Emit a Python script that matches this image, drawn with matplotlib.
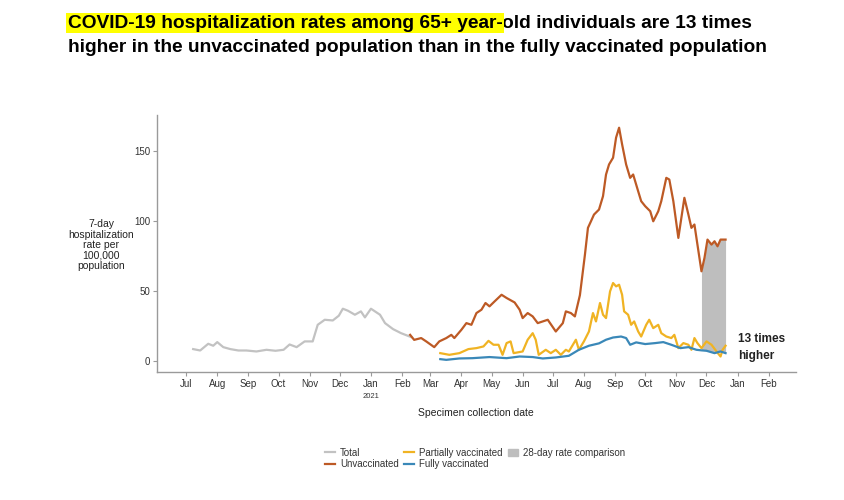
import numpy as np
import pandas as pd
import matplotlib
matplotlib.use("Agg")
import matplotlib.pyplot as plt
import matplotlib.dates as mdates
from matplotlib.lines import Line2D
from matplotlib.patches import Patch

plt.rcParams['font.family'] = ['Liberation Sans', 'DejaVu Sans']

# Total (all 65+), 2020-07 .. 2021-02
total_dates = ["2020-07-08", "2020-07-15", "2020-07-23", "2020-07-28", "2020-08-01", "2020-08-07",
               "2020-08-14", "2020-08-22", "2020-08-30", "2020-09-09", "2020-09-19", "2020-09-28",
               "2020-10-06", "2020-10-12", "2020-10-19", "2020-10-27", "2020-11-04", "2020-11-09",
               "2020-11-16", "2020-11-24", "2020-11-30", "2020-12-04", "2020-12-09", "2020-12-16",
               "2020-12-22", "2020-12-26", "2021-01-01", "2021-01-10", "2021-01-15", "2021-01-23",
               "2021-01-31", "2021-02-10"]
total_vals = [8.4, 7.4, 12.2, 10.8, 13.4, 9.8,
              8.4, 7.4, 7.4, 6.7, 7.9, 7.2,
              7.9, 11.7, 9.8, 13.9, 13.9, 25.8,
              29.4, 28.9, 32.3, 37.3, 35.9, 33.0,
              35.4, 31.1, 37.3, 33.0, 27.0, 22.7,
              19.8, 17.0]

unvax_dates = ["2021-02-09", "2021-02-13", "2021-02-20", "2021-02-25", "2021-03-05", "2021-03-10",
               "2021-03-17", "2021-03-22", "2021-03-25", "2021-04-01", "2021-04-06", "2021-04-11",
               "2021-04-16", "2021-04-21", "2021-04-25", "2021-04-29", "2021-05-04", "2021-05-11",
               "2021-05-16", "2021-05-24", "2021-05-29", "2021-06-01", "2021-06-06", "2021-06-11",
               "2021-06-16", "2021-06-21", "2021-06-26", "2021-07-04", "2021-07-11", "2021-07-14",
               "2021-07-19", "2021-07-23", "2021-07-28", "2021-08-02", "2021-08-05", "2021-08-08",
               "2021-08-11", "2021-08-16", "2021-08-20", "2021-08-23", "2021-08-26", "2021-08-30",
               "2021-09-02", "2021-09-05", "2021-09-08", "2021-09-12", "2021-09-16", "2021-09-19",
               "2021-09-24", "2021-09-27", "2021-10-01", "2021-10-06", "2021-10-09", "2021-10-14",
               "2021-10-17", "2021-10-22", "2021-10-25", "2021-10-29", "2021-11-03", "2021-11-06",
               "2021-11-09", "2021-11-13", "2021-11-16", "2021-11-19", "2021-11-22", "2021-11-26",
               "2021-11-29", "2021-12-02", "2021-12-06", "2021-12-09", "2021-12-12", "2021-12-15",
               "2021-12-20"]
unvax_vals = [18.6, 15.0, 16.3, 13.9, 9.8, 13.9,
              16.3, 18.6, 16.3, 22.2, 27.0, 25.8,
              34.2, 36.6, 41.4, 39.0, 42.5, 47.3,
              45.0, 41.8, 36.6, 30.6, 34.2, 31.8,
              27.0, 28.2, 29.4, 21.0, 27.0, 35.4,
              34.2, 31.8, 47.0, 76.0, 95.2, 99.9,
              104.7, 108.3, 117.9, 133.4, 140.6, 145.4,
              159.8, 166.9, 155.0, 140.6, 131.0, 133.4,
              121.4, 114.3, 110.7, 107.1, 99.9, 107.1,
              114.3, 131.0, 129.8, 114.3, 88.0, 102.4,
              116.7, 104.7, 95.2, 97.6, 83.2, 64.1,
              73.7, 86.8, 83.2, 85.6, 82.0, 86.8,
              86.8]

partial_dates = ["2021-03-11", "2021-03-20", "2021-03-30", "2021-04-08", "2021-04-16", "2021-04-23",
                 "2021-04-28", "2021-05-03", "2021-05-08", "2021-05-12", "2021-05-16", "2021-05-20",
                 "2021-05-23", "2021-06-01", "2021-06-06", "2021-06-11", "2021-06-14", "2021-06-17",
                 "2021-06-24", "2021-06-29", "2021-07-04", "2021-07-09", "2021-07-14", "2021-07-17",
                 "2021-07-24", "2021-07-27", "2021-08-01", "2021-08-06", "2021-08-10", "2021-08-13",
                 "2021-08-17", "2021-08-20", "2021-08-23", "2021-08-27", "2021-08-30", "2021-09-02",
                 "2021-09-05", "2021-09-08", "2021-09-10", "2021-09-14", "2021-09-17", "2021-09-20",
                 "2021-09-24", "2021-09-27", "2021-10-02", "2021-10-05", "2021-10-09", "2021-10-14",
                 "2021-10-17", "2021-10-22", "2021-10-27", "2021-10-30", "2021-11-03", "2021-11-08",
                 "2021-11-13", "2021-11-16", "2021-11-19", "2021-11-22", "2021-11-26", "2021-12-01",
                 "2021-12-06", "2021-12-11", "2021-12-15", "2021-12-17", "2021-12-20"]
partial_vals = [5.5, 4.3, 5.5, 8.4, 9.1, 10.3,
                14.3, 11.5, 11.5, 4.3, 12.7, 13.9,
                5.5, 6.7, 15.1, 19.8, 15.1, 4.3,
                7.9, 5.5, 7.9, 4.3, 7.9, 6.7,
                15.1, 7.9, 13.9, 21.0, 34.2, 28.2,
                41.4, 33.0, 30.6, 49.7, 55.7, 53.3,
                54.5, 47.3, 35.4, 33.0, 25.8, 28.2,
                21.0, 17.4, 25.8, 29.4, 23.4, 25.8,
                19.8, 17.4, 16.3, 18.6, 9.1, 12.7,
                11.5, 7.9, 16.3, 12.7, 9.1, 13.9,
                11.5, 6.7, 3.1, 7.9, 10.8]

full_dates = ["2021-03-11", "2021-03-17", "2021-03-30", "2021-04-12", "2021-04-29", "2021-05-16",
              "2021-05-29", "2021-06-11", "2021-06-21", "2021-07-04", "2021-07-17", "2021-07-27",
              "2021-08-06", "2021-08-16", "2021-08-23", "2021-08-30", "2021-09-07", "2021-09-12",
              "2021-09-16", "2021-09-22", "2021-10-01", "2021-10-11", "2021-10-19", "2021-10-27",
              "2021-11-05", "2021-11-13", "2021-11-21", "2021-11-26", "2021-12-01", "2021-12-09",
              "2021-12-15", "2021-12-20"]
full_vals = [1.2, 0.7, 1.7, 1.9, 2.7, 1.9,
             3.1, 2.7, 1.7, 2.4, 3.6, 7.9,
             10.8, 12.5, 15.1, 16.7, 17.4, 16.3,
             11.5, 13.2, 12.0, 12.7, 13.4, 11.5,
             9.1, 9.8, 7.9, 7.5, 7.2, 5.5,
             6.7, 5.5]

comp_start = "2021-11-26"
comp_end = "2021-12-20"

month_labels = ["Jul", "Aug", "Sep", "Oct", "Nov", "Dec", "Jan", "Feb", "Mar", "Apr",
                "May", "Jun", "Jul", "Aug", "Sep", "Oct", "Nov", "Dec", "Jan", "Feb"]

c_total = "#C2C2C2"
c_unvax = "#BD5A25"
c_part = "#F0B323"
c_full = "#3A88B8"
c_fill = "#BEBEBE"

td = pd.to_datetime(total_dates)
ud = pd.to_datetime(unvax_dates)
pd_ = pd.to_datetime(partial_dates)
fd = pd.to_datetime(full_dates)

fig = plt.figure(figsize=(8.44, 5.0), dpi=100)
ax = fig.add_axes([0.186, 0.256, 0.757, 0.514])

# shaded 28-day comparison between fully vaccinated and unvaccinated
days = pd.date_range(comp_start, comp_end, freq="D")
x_num = mdates.date2num(days)
top = np.interp(x_num, mdates.date2num(ud), unvax_vals)
bot = np.interp(x_num, mdates.date2num(fd), full_vals)
ax.fill_between(days, bot, top, color=c_fill, lw=0, zorder=1)

ax.plot(td, total_vals, color=c_total, lw=1.6, zorder=2)
ax.plot(ud, unvax_vals, color=c_unvax, lw=1.6, zorder=3)
ax.plot(pd_, partial_vals, color=c_part, lw=1.6, zorder=3)
ax.plot(fd, full_vals, color=c_full, lw=1.6, zorder=4)

ax.set_xlim(pd.Timestamp("2020-06-02"), pd.Timestamp("2022-02-28"))
ax.set_ylim(-8, 176)

ticks = pd.date_range("2020-07-01", "2022-02-01", freq="MS")
ax.set_xticks(ticks)
ax.set_xticklabels(month_labels)
ax.set_yticks([0, 50, 100, 150])

for s in ["top", "right"]:
    ax.spines[s].set_visible(False)
for s in ["left", "bottom"]:
    ax.spines[s].set_color("#9A9A9A")
    ax.spines[s].set_linewidth(1.0)
ax.tick_params(axis="both", colors="#9A9A9A", labelcolor="#333333", labelsize=7, length=3, width=0.8, pad=2)

ax.text(pd.Timestamp("2021-01-01"), -0.082, "2021", transform=ax.get_xaxis_transform(),
        ha="center", va="top", fontsize=5.5, color="#333333")

ax.text(pd.Timestamp("2022-01-01"), 9.5, "13 times\nhigher", ha="left", va="center",
        fontsize=8.5, fontweight="bold", color="#222222", linespacing=1.6)

fig.text(0.12, 0.51, "7-day\nhospitalization\nrate per\n100,000\npopulation", ha="center", va="center",
         fontsize=7.5, color="#222222", linespacing=1.05)
fig.text(0.564, 0.174, "Specimen collection date", ha="center", va="center", fontsize=7.5, color="#222222")

# title with highlighted first part
t1 = fig.text(0.08, 0.954, "COVID-19 hospitalization rates among 65+ year-", ha="left", va="center",
              fontsize=13.8, fontweight="bold", color="black",
              bbox=dict(boxstyle="square,pad=0.1", fc="#FFFF00", ec="none"))
plt.annotate("old individuals are 13 times", xy=(1, 0.5), xycoords=t1, xytext=(0, 0),
             textcoords="offset points", ha="left", va="center",
             fontsize=13.8, fontweight="bold", color="black", annotation_clip=False)
fig.text(0.08, 0.904, "higher in the unvaccinated population than in the fully vaccinated population",
         ha="left", va="center", fontsize=13.8, fontweight="bold", color="black")

handles = [Line2D([], [], color=c_total, lw=1.6),
           Line2D([], [], color=c_unvax, lw=1.6),
           Line2D([], [], color=c_part, lw=1.6),
           Line2D([], [], color=c_full, lw=1.6),
           Patch(color=c_fill)]
labels = ["Total", "Unvaccinated", "Partially vaccinated", "Fully vaccinated", "28-day rate comparison"]
fig.legend(handles, labels, loc="center", bbox_to_anchor=(0.563, 0.083), ncol=3, frameon=False,
           fontsize=7, handlelength=1.0, handletextpad=0.5, columnspacing=0.6, labelspacing=0.2,
           labelcolor="#333333")

fig.savefig("out.png", dpi=100)
